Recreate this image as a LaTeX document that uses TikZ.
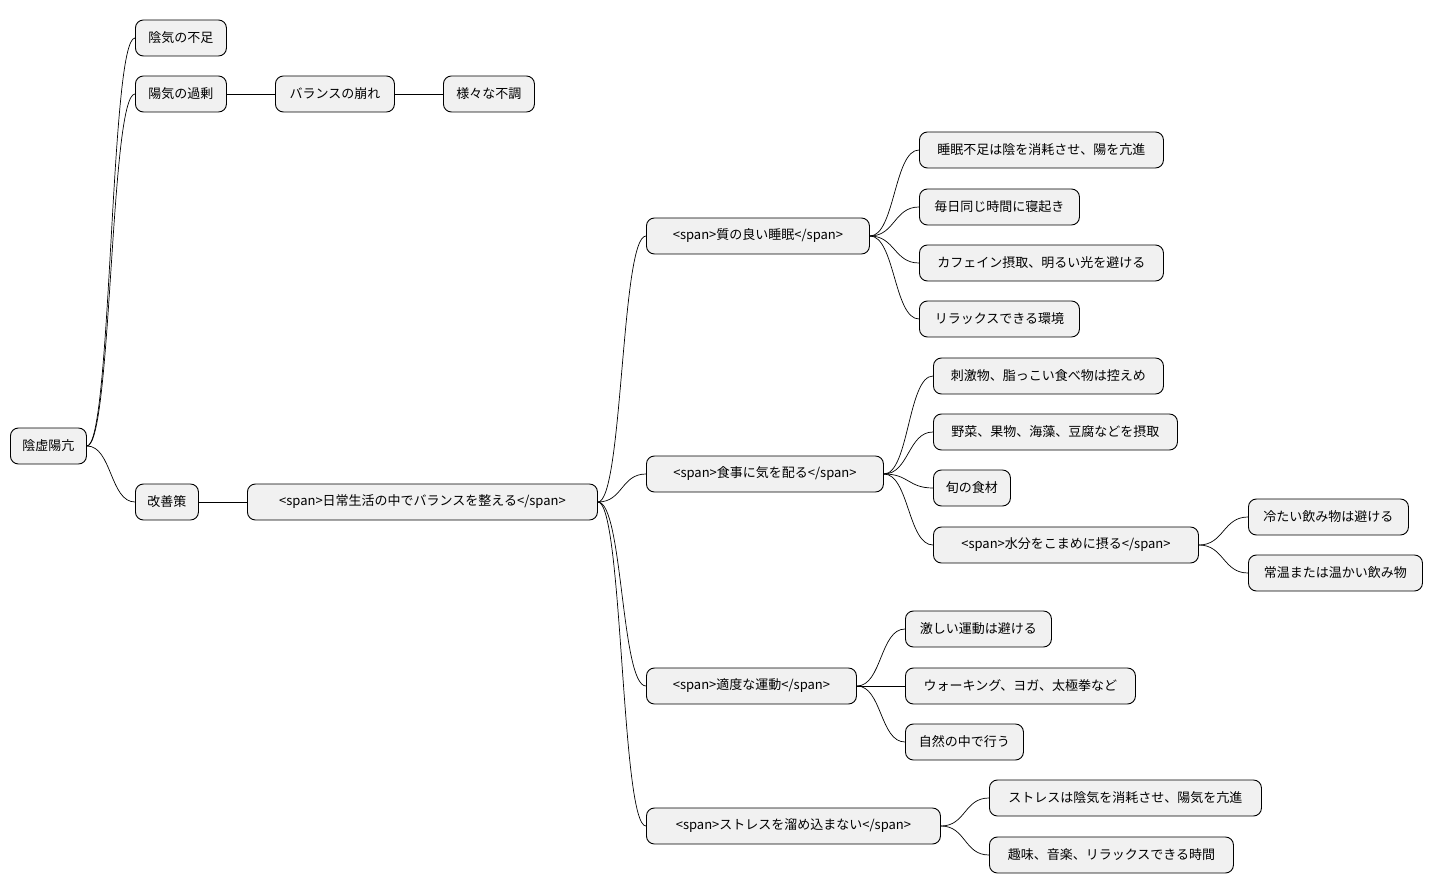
\documentclass[tikz,border=0pt]{standalone}
\usepackage{fontspec}
\setmainfont{Noto Sans CJK JP}
\usetikzlibrary{positioning}
\definecolor{boxfill}{HTML}{F1F1F1}
\tikzset{
  topic/.style={draw=black, fill=boxfill, rounded corners=8pt, minimum height=36pt,
    inner xsep=0pt, anchor=west, font=\fontsize{13}{15}\selectfont, line width=0.9pt},
  link/.style={line width=0.7pt},
}
\newcommand{\branch}[2]{\draw[link] (#1.east) .. controls ([xshift=25pt]#1.east) and ([xshift=-25pt]#2.west) .. (#2.west);}
\begin{document}
\begin{tikzpicture}[x=1pt,y=-1pt]
   \useasboundingbox (0,0) rectangle (1433,893);
   % root and first level
   \node[topic, minimum width=76pt] (root) at (10,446) {陰虚陽亢};
   \node[topic, minimum width=91pt] (yin) at (135,38) {陰気の不足};
   \node[topic, minimum width=91pt] (yang) at (135,94) {陽気の過剰};
   \node[topic, minimum width=119pt] (bal) at (275,94) {バランスの崩れ};
   \node[topic, minimum width=91pt] (ill) at (443,94) {様々な不調};
   \node[topic, minimum width=63pt] (fix) at (135,502) {改善策};
   \node[topic, minimum width=350pt] (daily) at (247,502) {<span>日常生活の中でバランスを整える</span>};
   % second level
   \node[topic, minimum width=223pt] (sleep) at (646,236) {<span>質の良い睡眠</span>};
   \node[topic, minimum width=237pt] (food) at (646,474) {<span>食事に気を配る</span>};
   \node[topic, minimum width=210pt] (move) at (646,686) {<span>適度な運動</span>};
   \node[topic, minimum width=294pt] (stress) at (646,826) {<span>ストレスを溜め込まない</span>};
   % leaves
   \foreach \name/\x/\y/\w/\txt in {
       s1/919/150/244/{睡眠不足は陰を消耗させ、陽を亢進},
       s2/919/207/160/{毎日同じ時間に寝起き},
       s3/919/263/244/{カフェイン摂取、明るい光を避ける},
       s4/919/319/160/{リラックスできる環境},
       f1/933/376/230/{刺激物、脂っこい食べ物は控えめ},
       f2/933/432/244/{野菜、果物、海藻、豆腐などを摂取},
       f3/933/488/77/{旬の食材},
       f4/933/545/265/{<span>水分をこまめに摂る</span>},
       w1/1248/517/160/{冷たい飲み物は避ける},
       w2/1248/573/174/{常温または温かい飲み物},
       m1/905/629/146/{激しい運動は避ける},
       m2/905/686/230/{ウォーキング、ヨガ、太極拳など},
       m3/905/742/118/{自然の中で行う},
       r1/989/798/272/{ストレスは陰気を消耗させ、陽気を亢進},
       r2/989/855/244/{趣味、音楽、リラックスできる時間}} {
       \node[topic, minimum width=\w pt] (\name) at (\x,\y) {\txt};
   }
   % connectors
   \foreach \a/\b in {root/yin,root/yang,root/fix,yang/bal,bal/ill,fix/daily,
       daily/sleep,daily/food,daily/move,daily/stress,
       sleep/s1,sleep/s2,sleep/s3,sleep/s4,food/f1,food/f2,food/f3,food/f4,
       f4/w1,f4/w2,move/m1,move/m2,move/m3,stress/r1,stress/r2} {
       \branch{\a}{\b}
   }
\end{tikzpicture}
\end{document}
